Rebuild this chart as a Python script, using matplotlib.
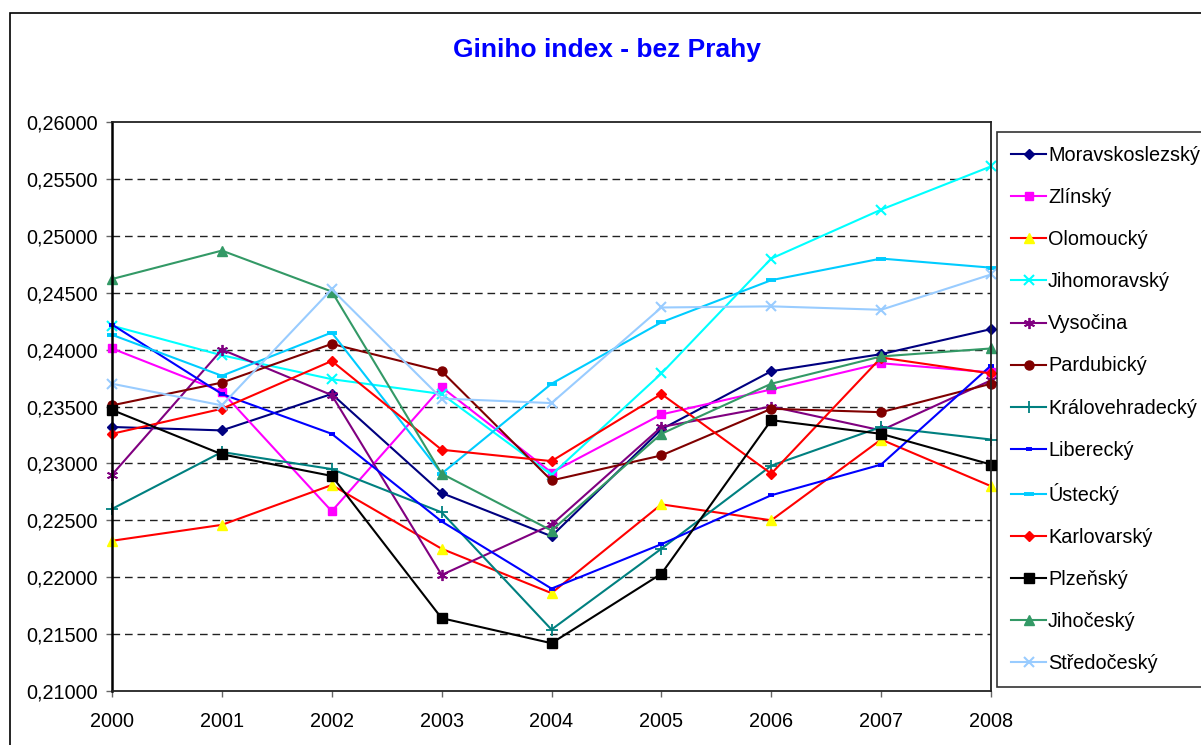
import matplotlib
matplotlib.use("Agg")
import matplotlib.pyplot as plt
from matplotlib.ticker import FuncFormatter, MultipleLocator
from matplotlib.patches import Rectangle

plt.rcParams['font.family'] = ['Liberation Sans', 'DejaVu Sans']

years = [2000, 2001, 2002, 2003, 2004, 2005, 2006, 2007, 2008]

regions = ["Moravskoslezský", "Zlínský", "Olomoucký", "Jihomoravský", "Vysočina",
           "Pardubický", "Královehradecký", "Liberecký", "Ústecký", "Karlovarský",
           "Plzeňský", "Jihočeský", "Středočeský"]

moravskoslezsky = [0.2332, 0.2329, 0.2361, 0.2274, 0.2236, 0.2330, 0.2381, 0.2396, 0.2418]
zlinsky         = [0.2401, 0.2363, 0.2258, 0.2367, 0.2292, 0.2343, 0.2365, 0.2388, 0.2380]
olomoucky       = [0.2232, 0.2246, 0.2281, 0.2225, 0.2186, 0.2264, 0.2250, 0.2321, 0.2280]
jihomoravsky    = [0.2421, 0.2395, 0.2374, 0.2361, 0.2290, 0.2379, 0.2480, 0.2523, 0.2561]
vysocina        = [0.2290, 0.2400, 0.2360, 0.2202, 0.2246, 0.2332, 0.2350, 0.2329, 0.2373]
pardubicky      = [0.2351, 0.2371, 0.2405, 0.2381, 0.2285, 0.2307, 0.2348, 0.2345, 0.2370]
kralovehradecky = [0.2260, 0.2310, 0.2295, 0.2257, 0.2154, 0.2225, 0.2298, 0.2332, 0.2321]
liberecky       = [0.2422, 0.2361, 0.2326, 0.2249, 0.2190, 0.2229, 0.2272, 0.2299, 0.2386]
ustecky         = [0.2413, 0.2377, 0.2415, 0.2291, 0.2370, 0.2424, 0.2461, 0.2480, 0.2472]
karlovarsky     = [0.2326, 0.2348, 0.2390, 0.2312, 0.2302, 0.2361, 0.2291, 0.2393, 0.2379]
plzensky        = [0.2347, 0.2308, 0.2289, 0.2164, 0.2142, 0.2203, 0.2338, 0.2326, 0.2299]
jihocesky       = [0.2462, 0.2487, 0.2451, 0.2291, 0.2241, 0.2326, 0.2370, 0.2394, 0.2401]
stredocesky     = [0.2370, 0.2351, 0.2453, 0.2357, 0.2353, 0.2437, 0.2438, 0.2435, 0.2466]

series = [moravskoslezsky, zlinsky, olomoucky, jihomoravsky, vysocina, pardubicky,
          kralovehradecky, liberecky, ustecky, karlovarsky, plzensky, jihocesky, stredocesky]

# (line colour, marker, marker face, marker edge, size, edge width)
styles = [
    ("#000080", "D", "#000080", "#000080", 5.0, 1.0),
    ("#FF00FF", "s", "#FF00FF", "#FF00FF", 6.0, 1.0),
    ("#FF0000", "^", "#FFFF00", "#FFFF00", 7.0, 1.0),
    ("#00FFFF", "x", "none", "#00FFFF", 7.0, 1.5),
    ("#800080", (6, 2, 0), "none", "#800080", 8.0, 1.3),
    ("#800000", "o", "#800000", "#800000", 6.5, 1.0),
    ("#008080", "+", "none", "#008080", 8.0, 1.3),
    ("#0000FF", "_", "none", "#0000FF", 4.5, 2.8),
    ("#00CCFF", "_", "none", "#00CCFF", 7.0, 2.8),
    ("#FF0000", "D", "#FF0000", "#FF0000", 5.5, 1.0),
    ("#000000", "s", "#000000", "#000000", 6.5, 1.0),
    ("#339966", "^", "#339966", "#339966", 7.0, 1.0),
    ("#99CCFF", "x", "none", "#99CCFF", 7.0, 1.5),
]

W, H = 1201, 745
fig = plt.figure(figsize=(W / 100, H / 100), dpi=100)
fig.patch.set_facecolor("white")

# outer chart border
fig.patches.append(Rectangle((9.5 / W, -0.1), 1.2, 1 - 12.5 / H + 0.1,
                             transform=fig.transFigure, fill=False,
                             edgecolor="black", linewidth=1.2))

ax = fig.add_axes([112 / W, 1 - 691 / H, (991 - 112) / W, (691 - 122) / H])

for name, vals, (c, m, mfc, mec, ms, mew) in zip(regions, series, styles):
    ax.plot(years, vals, color=c, linewidth=1.5, marker=m, markerfacecolor=mfc,
            markeredgecolor=mec, markersize=ms, markeredgewidth=mew, label=name,
            clip_on=False)

ax.set_xlim(2000, 2008)
ax.set_ylim(0.21, 0.26)
ax.yaxis.set_major_locator(MultipleLocator(0.005))
ax.set_xticks(years)
ax.yaxis.set_major_formatter(FuncFormatter(lambda v, p: f"{v:.5f}".replace(".", ",")))

for y in [0.215, 0.22, 0.225, 0.23, 0.235, 0.24, 0.245, 0.25, 0.255]:
    ax.axhline(y, color="#222222", linewidth=1.0, dashes=(5.5, 3.5), zorder=0)

for s in ax.spines.values():
    s.set_color("#222222")
    s.set_linewidth(1.3)
ax.spines["left"].set_color("black")
ax.spines["left"].set_linewidth(1.8)

ax.tick_params(axis="y", direction="out", length=4.5, width=1.0, color="#666666",
               labelsize=14.3, pad=6.0, labelcolor="black")
ax.tick_params(axis="x", direction="out", length=4.5, width=1.0, color="#666666",
               labelsize=14.3, pad=10.5, labelcolor="black")

fig.text(607 / W, 1 - 50 / H, "Giniho index - bez Prahy", ha="center", va="center",
         fontsize=19, fontweight="bold", color="#0000FF")

leg = fig.legend(loc="upper left", bbox_to_anchor=(997 / W, 1 - 132 / H),
                 bbox_transform=fig.transFigure, fontsize=14.3, frameon=True,
                 fancybox=False, edgecolor="black", borderpad=0.72,
                 handlelength=1.75, handletextpad=0.1, labelspacing=1.16,
                 borderaxespad=0)
leg.get_frame().set_linewidth(1.2)

fig.savefig("out.png", dpi=100, facecolor="white")
